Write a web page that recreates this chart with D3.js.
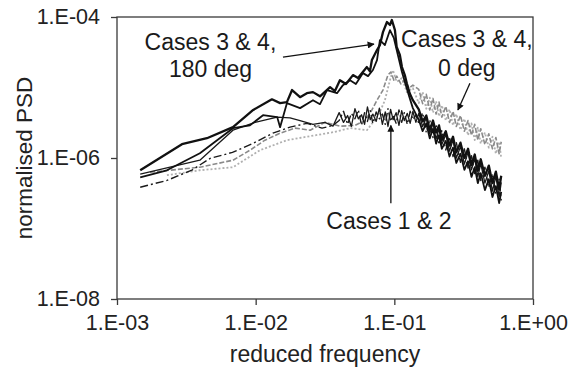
<!DOCTYPE html>
<html>
<head>
<meta charset="utf-8">
<script src="https://cdn.jsdelivr.net/npm/d3@7"></script>
<style>
  body { margin: 0; background: #fff; }
  svg { display: block; font-family: "Liberation Sans", Arial, sans-serif; }
</style>
</head>
<body>
<div id="chart"></div>
<script>
// axis ticks
const xTicks = [1e-3, 1e-2, 1e-1, 1];
const xTickLabels = ['1.E-03', '1.E-02', '1.E-01', '1.E+00'];
const yTicks = [1e-8, 1e-6, 1e-4];
const yTickLabels = ['1.E-08', '1.E-06', '1.E-04'];

// shared frequency grids for the noisy parts
const midFreq = [0.040, 0.043, 0.046, 0.049, 0.052, 0.055, 0.058, 0.061, 0.064, 0.067, 0.070, 0.074, 0.078,
  0.082, 0.086, 0.090, 0.094, 0.098, 0.103, 0.108, 0.113, 0.118, 0.124, 0.130, 0.136, 0.143];
const hfFreq = [0.15, 0.16, 0.17, 0.18, 0.19, 0.20, 0.21, 0.22, 0.235, 0.25, 0.265, 0.28, 0.30, 0.32, 0.34,
  0.36, 0.38, 0.40, 0.42, 0.45, 0.48, 0.51, 0.54, 0.57, 0.59];

// cases 3 & 4, 180 deg  [frequency, psd]
const case3_180Low = [[0.00147,6.7e-7],[0.00294,1.57e-6],[0.00445,1.91e-6],[0.00686,2.74e-6],[0.0096,4.8e-6],
  [0.0131,6.8e-6],[0.015,6.0e-6],[0.0168,6.2e-6],[0.0183,9.2e-6],[0.0209,7.3e-6],[0.0234,8.3e-6],[0.0259,8.6e-6],
  [0.0291,7.5e-6],[0.0344,1.01e-5],[0.0373,8.9e-6],[0.0405,1.27e-5],[0.0448,1.12e-5],[0.0503,1.5e-5],
  [0.0547,1.36e-5],[0.0634,1.95e-5],[0.0667,1.7e-5],[0.0689,2.45e-5],[0.075,3.4e-5],[0.0787,4.0e-5],
  [0.0828,6.1e-5],[0.0885,8.5e-5],[0.093,7.7e-5],[0.096,9.06e-5],[0.101,6.5e-5],[0.104,3.75e-5],
  [0.1096,2.9e-5],[0.1135,1.95e-5],[0.119,1.5e-5],[0.123,1.15e-5],[0.129,8.3e-6],[0.136,6.6e-6]];
const case3_180Hf = [4.9e-6, 3.3e-6, 4.0e-6, 2.5e-6, 3.4e-6, 2.3e-6, 2.9e-6, 1.8e-6, 2.4e-6, 1.5e-6, 2.0e-6,
  1.2e-6, 1.65e-6, 1.0e-6, 1.35e-6, 8.0e-7, 1.12e-6, 6.6e-7, 9.6e-7, 5.6e-7, 7.8e-7, 4.4e-7, 6.4e-7, 3.6e-7, 5.6e-7];

const case4_180Low = [[0.00147,5.3e-7],[0.00229,6.7e-7],[0.00396,1.17e-6],[0.00686,2.65e-6],[0.0091,2.9e-6],
  [0.0113,4.05e-6],[0.0143,3.8e-6],[0.015,2.74e-6],[0.0168,6.0e-6],[0.0209,5.1e-6],[0.0259,6.6e-6],[0.0291,5.8e-6],
  [0.0327,9.2e-6],[0.0386,8.3e-6],[0.0426,1.08e-5],[0.0479,1.27e-5],[0.0528,1.12e-5],[0.0594,1.6e-5],
  [0.0646,1.45e-5],[0.0701,1.77e-5],[0.075,2.45e-5],[0.0787,4.7e-5],[0.0855,4.0e-5],[0.093,6.5e-5],
  [0.0993,5.0e-5],[0.106,2.9e-5],[0.1135,1.66e-5],[0.121,1.08e-5],[0.129,7.1e-6],[0.136,5.1e-6]];
const case4_180Hf = [3.5e-6, 2.4e-6, 3.1e-6, 1.9e-6, 2.6e-6, 1.6e-6, 2.1e-6, 1.35e-6, 1.75e-6, 1.05e-6, 1.4e-6,
  8.5e-7, 1.15e-6, 6.8e-7, 9.0e-7, 5.4e-7, 7.4e-7, 4.4e-7, 6.1e-7, 3.5e-7, 5.0e-7, 2.8e-7, 4.0e-7, 2.3e-7, 3.3e-7];

// cases 1 & 2
const case1Low = [[0.00147,5.9e-7],[0.00396,9.3e-7],[0.00686,2.48e-6],[0.0099,3.2e-6],[0.0143,3.8e-6],
  [0.0177,3.7e-6],[0.0209,3.4e-6],[0.0259,3.0e-6],[0.0316,3.2e-6],[0.0361,2.83e-6]];
const case1Mid = [4.4e-6, 3.2e-6, 4.0e-6, 2.8e-6, 5.0e-6, 3.6e-6, 4.1e-6, 3.0e-6, 5.3e-6, 3.5e-6, 4.2e-6, 3.3e-6,
  5.1e-6, 3.0e-6, 4.5e-6, 2.8e-6, 4.9e-6, 3.5e-6, 4.4e-6, 2.9e-6, 4.7e-6, 3.4e-6, 4.3e-6, 3.1e-6, 4.6e-6, 3.2e-6];
const case1Hf = [4.3e-6, 2.8e-6, 3.7e-6, 2.2e-6, 3.1e-6, 1.85e-6, 2.6e-6, 1.55e-6, 2.15e-6, 1.25e-6, 1.8e-6, 1.0e-6,
  1.45e-6, 8.2e-7, 1.2e-6, 6.8e-7, 9.8e-7, 5.4e-7, 8.3e-7, 4.4e-7, 6.6e-7, 3.4e-7, 5.5e-7, 2.8e-7, 4.5e-7];

const case2Low = [[0.00147,3.85e-7],[0.00229,4.8e-7],[0.0035,6.8e-7],[0.0047,9.9e-7],[0.0068,1.2e-6],
  [0.0096,1.62e-6],[0.0133,2.25e-6],[0.0177,2.74e-6],[0.0234,3.1e-6],[0.0301,2.65e-6],[0.0361,2.9e-6]];
const case2Mid = [3.4e-6, 4.6e-6, 3.0e-6, 4.3e-6, 3.6e-6, 4.8e-6, 2.9e-6, 4.4e-6, 3.3e-6, 4.7e-6, 3.1e-6, 4.5e-6,
  3.6e-6, 4.2e-6, 3.0e-6, 5.0e-6, 3.3e-6, 4.0e-6, 3.1e-6, 4.8e-6, 3.2e-6, 4.4e-6, 3.0e-6, 4.6e-6, 3.5e-6, 4.1e-6];
const case2Hf = [3.1e-6, 4.4e-6, 2.3e-6, 3.5e-6, 1.95e-6, 3.0e-6, 1.55e-6, 2.45e-6, 1.3e-6, 2.0e-6, 1.05e-6, 1.65e-6,
  8.7e-7, 1.35e-6, 7.2e-7, 1.08e-6, 6.0e-7, 9.3e-7, 4.8e-7, 7.4e-7, 3.8e-7, 6.0e-7, 3.1e-7, 5.0e-7, 2.5e-7];

// cases 3 & 4, 0 deg
const case3_0Low = [[0.00173,6.3e-7],[0.00396,7.4e-7],[0.00686,9.3e-7],[0.0091,1.29e-6],[0.01167,1.79e-6],
  [0.015,2.25e-6],[0.0192,2.65e-6],[0.0247,2.48e-6],[0.0316,3.2e-6],[0.0405,2.83e-6],[0.052,2.9e-6],
  [0.0614,3.4e-6],[0.0689,4.8e-6],[0.075,6.6e-6],[0.0828,9.2e-6],[0.0899,1.5e-5],[0.0944,1.66e-5],
  [0.0993,1.27e-5],[0.104,1.45e-5],[0.1117,1.12e-5],[0.119,1.27e-5],[0.1274,9.8e-6],[0.136,1.08e-5]];
const case3_0Hf = [9.4e-6, 5.9e-6, 8.0e-6, 4.8e-6, 7.0e-6, 4.2e-6, 6.2e-6, 3.8e-6, 5.4e-6, 3.2e-6, 4.6e-6, 2.8e-6,
  4.0e-6, 2.4e-6, 3.4e-6, 2.1e-6, 3.0e-6, 1.8e-6, 2.6e-6, 1.55e-6, 2.2e-6, 1.35e-6, 1.95e-6, 1.15e-6, 1.7e-6];

const case4_0Low = [[0.00229,5.7e-7],[0.00396,6.7e-7],[0.00686,7.4e-7],[0.01074,1.29e-6],[0.0168,1.79e-6],
  [0.0247,2.04e-6],[0.0361,2.32e-6],[0.0479,2.65e-6],[0.0634,2.48e-6],[0.0701,3.2e-6],[0.0787,4.5e-6],
  [0.0855,6.6e-6],[0.093,1.27e-5],[0.0977,1.77e-5],[0.104,1.2e-5],[0.1135,1.36e-5],[0.123,8.6e-6],[0.136,9.8e-6]];
const case4_0Hf = [6.0e-6, 8.6e-6, 5.0e-6, 7.2e-6, 4.4e-6, 6.4e-6, 3.9e-6, 5.6e-6, 3.4e-6, 4.9e-6, 2.9e-6, 4.2e-6,
  2.5e-6, 3.6e-6, 2.1e-6, 3.1e-6, 1.8e-6, 2.7e-6, 1.6e-6, 2.3e-6, 1.4e-6, 2.0e-6, 1.15e-6, 1.7e-6, 1.0e-6];

// annotation labels and arrows, in data units
const labels = [
  { text: 'Cases 3 & 4,', f: 0.00472, p: 3.4e-5 },
  { text: '180 deg', f: 0.00472, p: 1.41e-5 },
  { text: 'Cases 3 & 4,', f: 0.3335, p: 3.75e-5 },
  { text: '0 deg', f: 0.3335, p: 1.45e-5 },
  { text: 'Cases 1 & 2', f: 0.0914, p: 1.0e-7 }
];
const arrows = [
  { from: [0.01574, 2.7e-5], to: [0.0713, 4.13e-5] },
  { from: [0.351, 1.15e-5], to: [0.2875, 4.8e-6] },
  { from: [0.0944, 2.28e-7], to: [0.0944, 2.9e-6] }
];

function build(low, freqs1, vals1, freqs2, vals2) {
  let pts = low.slice();
  if (freqs1) pts = pts.concat(freqs1.map((f, i) => [f, vals1[i]]));
  if (freqs2) pts = pts.concat(freqs2.map((f, i) => [f, vals2[i]]));
  return pts;
}

const series = [
  { name: 'case4_0', data: build(case4_0Low, hfFreq, case4_0Hf), color: '#b0b0b0', width: 1.8, dash: '2,2' },
  { name: 'case3_0', data: build(case3_0Low, hfFreq, case3_0Hf), color: '#8a8a8a', width: 1.6, dash: '5,2' },
  { name: 'case2', data: build(case2Low, midFreq, case2Mid, hfFreq, case2Hf), color: '#1a1a1a', width: 1.4, dash: '8,3,2,3' },
  { name: 'case1', data: build(case1Low, midFreq, case1Mid, hfFreq, case1Hf), color: '#1a1a1a', width: 1.3, dash: null },
  { name: 'case4_180', data: build(case4_180Low, hfFreq, case4_180Hf), color: '#111', width: 1.8, dash: null },
  { name: 'case3_180', data: build(case3_180Low, hfFreq, case3_180Hf), color: '#111', width: 2.3, dash: null }
];

const W = 580, H = 371;
const margin = { left: 117, right: 47, top: 17, bottom: 72 };

const svg = d3.select('#chart').append('svg')
  .attr('width', W)
  .attr('height', H);

const x = d3.scaleLog().domain([1e-3, 1]).range([margin.left, W - margin.right]);
const y = d3.scaleLog().domain([1e-8, 1e-4]).range([H - margin.bottom, margin.top]);

const axisColor = '#3a3a3a';

// frame
svg.append('rect')
  .attr('x', x(1e-3)).attr('y', y(1e-4))
  .attr('width', x(1) - x(1e-3)).attr('height', y(1e-8) - y(1e-4))
  .attr('fill', 'none').attr('stroke', axisColor).attr('stroke-width', 1.3);

// x axis
const xAxisG = svg.append('g')
  .attr('transform', `translate(0,${y(1e-8)})`)
  .call(d3.axisBottom(x).tickValues(xTicks).tickSize(6).tickPadding(10)
    .tickFormat((d, i) => xTickLabels[i]));
xAxisG.select('.domain').remove();
xAxisG.selectAll('line').attr('stroke', axisColor).attr('stroke-width', 1.3);
xAxisG.selectAll('text').attr('font-size', 21.5).attr('fill', '#222')
  .attr('font-family', '"Liberation Sans", Arial, sans-serif');

// y axis
const yAxisG = svg.append('g')
  .attr('transform', `translate(${x(1e-3)},0)`)
  .call(d3.axisLeft(y).tickValues(yTicks).tickSize(6).tickPadding(11)
    .tickFormat((d, i) => yTickLabels[i]));
yAxisG.select('.domain').remove();
yAxisG.selectAll('line').attr('stroke', axisColor).attr('stroke-width', 1.3);
yAxisG.selectAll('text').attr('font-size', 21.5).attr('fill', '#222')
  .attr('font-family', '"Liberation Sans", Arial, sans-serif');

// axis titles
svg.append('text')
  .attr('x', (x(1e-3) + x(1)) / 2).attr('y', 362)
  .attr('text-anchor', 'middle').attr('font-size', 23).attr('fill', '#222')
  .text('reduced frequency');

svg.append('text')
  .attr('transform', `translate(32,${(y(1e-8) + y(1e-4)) / 2}) rotate(-90)`)
  .attr('text-anchor', 'middle').attr('font-size', 22.5).attr('fill', '#222')
  .text('normalised PSD');

// lines
const line = d3.line()
  .x(d => x(d[0]))
  .y(d => y(d[1]));

svg.append('g').selectAll('path')
  .data(series)
  .enter().append('path')
  .attr('fill', 'none')
  .attr('stroke', d => d.color)
  .attr('stroke-width', d => d.width)
  .attr('stroke-dasharray', d => d.dash)
  .attr('stroke-linejoin', 'round')
  .attr('d', d => line(d.data));

// arrows
svg.append('defs').append('marker')
  .attr('id', 'head')
  .attr('viewBox', '0 0 10 10')
  .attr('refX', 9).attr('refY', 5)
  .attr('markerWidth', 9).attr('markerHeight', 7)
  .attr('markerUnits', 'userSpaceOnUse')
  .attr('orient', 'auto')
  .append('path').attr('d', 'M0,0 L10,5 L0,10 z').attr('fill', '#111');

svg.append('g').selectAll('line')
  .data(arrows)
  .enter().append('line')
  .attr('x1', d => x(d.from[0])).attr('y1', d => y(d.from[1]))
  .attr('x2', d => x(d.to[0])).attr('y2', d => y(d.to[1]))
  .attr('stroke', '#111').attr('stroke-width', 1.3)
  .attr('marker-end', 'url(#head)');

// labels
svg.append('g').selectAll('text')
  .data(labels)
  .enter().append('text')
  .attr('x', d => x(d.f)).attr('y', d => y(d.p))
  .attr('text-anchor', 'middle')
  .attr('font-size', 23)
  .attr('fill', '#1a1a1a')
  .text(d => d.text);
</script>
</body>
</html>
